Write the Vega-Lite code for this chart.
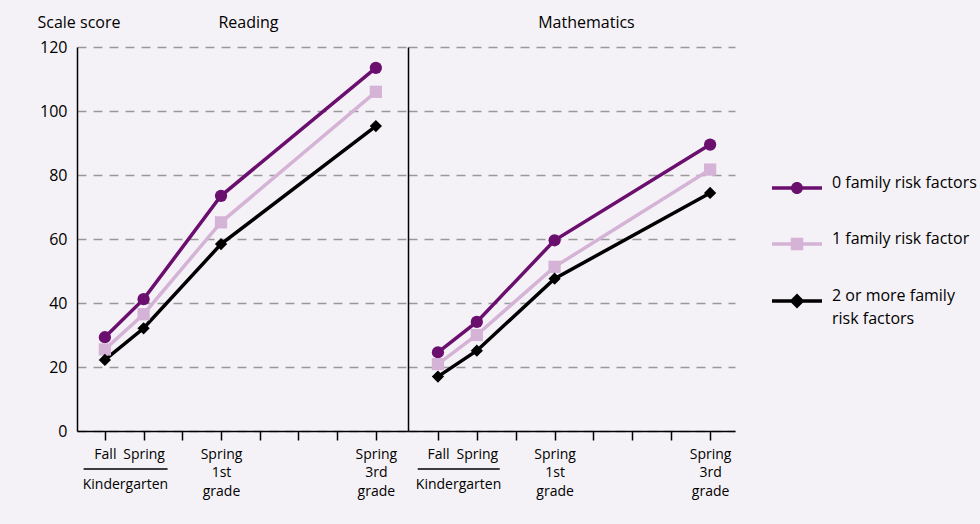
{
  "$schema": "https://vega.github.io/schema/vega-lite/v6.json",
  "background": "#f5f2f7",
  "padding": {"left": 37, "top": 14, "right": 4, "bottom": 26},
  "bounds": "flush",
  "spacing": 0,
  "config": {
    "font": "Open Sans",
    "view": {"stroke": null},
    "style": {"guide-label": {"lineHeight": 23}},
    "axis": {
      "labelFont": "Open Sans",
      "titleFont": "Open Sans",
      "labelColor": "#000000",
      "titleColor": "#000000",
      "domainColor": "#000000",
      "domainWidth": 1.5,
      "tickColor": "#000000"
    }
  },
  "data": {
    "values": [
      {"subject": "Reading", "t": 0, "group": "0 family risk factors", "score": 29.3},
      {"subject": "Reading", "t": 1, "group": "0 family risk factors", "score": 41.2},
      {"subject": "Reading", "t": 3, "group": "0 family risk factors", "score": 73.5},
      {"subject": "Reading", "t": 7, "group": "0 family risk factors", "score": 113.5},
      {"subject": "Reading", "t": 0, "group": "1 family risk factor", "score": 25.5},
      {"subject": "Reading", "t": 1, "group": "1 family risk factor", "score": 36.5},
      {"subject": "Reading", "t": 3, "group": "1 family risk factor", "score": 65.2},
      {"subject": "Reading", "t": 7, "group": "1 family risk factor", "score": 106},
      {"subject": "Reading", "t": 0, "group": "2 or more family risk factors", "score": 22.2},
      {"subject": "Reading", "t": 1, "group": "2 or more family risk factors", "score": 32.1},
      {"subject": "Reading", "t": 3, "group": "2 or more family risk factors", "score": 58.4},
      {"subject": "Reading", "t": 7, "group": "2 or more family risk factors", "score": 95.3},
      {"subject": "Mathematics", "t": 0, "group": "0 family risk factors", "score": 24.6},
      {"subject": "Mathematics", "t": 1, "group": "0 family risk factors", "score": 34.1},
      {"subject": "Mathematics", "t": 3, "group": "0 family risk factors", "score": 59.6},
      {"subject": "Mathematics", "t": 7, "group": "0 family risk factors", "score": 89.5},
      {"subject": "Mathematics", "t": 0, "group": "1 family risk factor", "score": 20.9},
      {"subject": "Mathematics", "t": 1, "group": "1 family risk factor", "score": 30},
      {"subject": "Mathematics", "t": 3, "group": "1 family risk factor", "score": 51.3},
      {"subject": "Mathematics", "t": 7, "group": "1 family risk factor", "score": 81.7},
      {"subject": "Mathematics", "t": 0, "group": "2 or more family risk factors", "score": 17},
      {"subject": "Mathematics", "t": 1, "group": "2 or more family risk factors", "score": 25.1},
      {"subject": "Mathematics", "t": 3, "group": "2 or more family risk factors", "score": 47.6},
      {"subject": "Mathematics", "t": 7, "group": "2 or more family risk factors", "score": 74.4}
    ]
  },
  "hconcat": [
    {
      "width": 331,
      "height": 384,
      "layer": [
        {
          "transform": [{"filter": "datum.subject == 'Reading'"}],
          "mark": {"type": "line", "strokeWidth": 3.5},
          "encoding": {
            "x": {
              "field": "t", "type": "quantitative",
              "scale": {"domain": [-0.72, 7.83], "nice": false, "zero": false},
              "axis": {
                "values": [0, 1, 2, 3, 4, 5, 6, 7],
                "labelExpr": "datum.value == 0 ? 'Fall' : datum.value == 1 ? 'Spring' : datum.value == 3 ? ['Spring', '1st', 'grade'] : datum.value == 7 ? ['Spring', '3rd', 'grade'] : ''",
                "title": null, "grid": false, "tickSize": 9, "tickWidth": 1.5,
                "labelFontSize": 14, "labelPadding": 7, "labelLineHeight": 18.5,
                "labelOverlap": false, "labelFlush": false
              }
            },
            "y": {
              "field": "score", "type": "quantitative",
              "scale": {"domain": [0, 120], "nice": false},
              "axis": {
                "values": [0, 20, 40, 60, 80, 100, 120],
                "title": "Scale score", "titleAngle": 0, "titleAlign": "left", "titleBaseline": "alphabetic",
                "titleX": -40, "titleY": -19.5, "titleFontSize": 16, "titleFontWeight": "normal",
                "ticks": false, "tickSize": 0, "labelPadding": 10, "labelFontSize": 16, "labelLineHeight": 18,
                "grid": true, "gridColor": "#999999", "gridDash": [9, 7], "gridWidth": 1.4
              }
            },
            "color": {
              "field": "group", "type": "nominal",
              "scale": {"domain": ["0 family risk factors", "1 family risk factor", "2 or more family risk factors"], "range": ["#6b0f6f", "#d4b3d6", "#000000"]},
              "legend": null
            }
          }
        },
        {
          "transform": [{"filter": "datum.subject == 'Reading'"}],
          "mark": {"type": "point", "filled": true, "opacity": 1, "size": 150},
          "encoding": {
            "x": {"field": "t", "type": "quantitative"},
            "y": {"field": "score", "type": "quantitative"},
            "color": {"field": "group", "type": "nominal", "legend": null},
            "shape": {
              "field": "group", "type": "nominal",
              "scale": {"domain": ["0 family risk factors", "1 family risk factor", "2 or more family risk factors"], "range": ["circle", "square", "diamond"]},
              "legend": null
            }
          }
        },
        {
          "data": {"values": [{"label": "Kindergarten"}]},
          "mark": {"type": "rule", "color": "#000000", "strokeWidth": 1.5},
          "encoding": {
            "x": {"datum": -0.55, "type": "quantitative"},
            "x2": {"datum": 1.62},
            "y": {"datum": -11.9, "type": "quantitative"}
          }
        },
        {
          "data": {"values": [{"label": "Kindergarten"}]},
          "mark": {"type": "text", "fontSize": 14, "baseline": "middle", "align": "center", "color": "#000000"},
          "encoding": {
            "x": {"datum": 0.53, "type": "quantitative"},
            "y": {"datum": -16.9, "type": "quantitative"},
            "text": {"field": "label"}
          }
        },
        {
          "data": {"values": [{"label": "Reading"}]},
          "mark": {"type": "text", "fontSize": 16, "baseline": "middle", "align": "center", "color": "#000000"},
          "encoding": {
            "x": {"datum": 3.71, "type": "quantitative"},
            "y": {"datum": 127.6, "type": "quantitative"},
            "text": {"field": "label"}
          }
        }
      ]
    },
    {
      "width": 327,
      "height": 384,
      "resolve": {"scale": {"shape": "independent", "fill": "independent"}},
      "layer": [
        {
          "transform": [{"filter": "datum.subject == 'Mathematics'"}],
          "mark": {"type": "line", "strokeWidth": 3.5},
          "encoding": {
            "x": {
              "field": "t", "type": "quantitative",
              "scale": {"domain": [-0.77, 7.64], "nice": false, "zero": false},
              "axis": {
                "values": [0, 1, 2, 3, 4, 5, 6, 7],
                "labelExpr": "datum.value == 0 ? 'Fall' : datum.value == 1 ? 'Spring' : datum.value == 3 ? ['Spring', '1st', 'grade'] : datum.value == 7 ? ['Spring', '3rd', 'grade'] : ''",
                "title": null, "grid": false, "tickSize": 9, "tickWidth": 1.5,
                "labelFontSize": 14, "labelPadding": 7, "labelLineHeight": 18.5,
                "labelOverlap": false, "labelFlush": false
              }
            },
            "y": {
              "field": "score", "type": "quantitative",
              "scale": {"domain": [0, 120], "nice": false},
              "axis": {
                "values": [0, 20, 40, 60, 80, 100, 120],
                "title": null, "labels": false, "ticks": false, "tickSize": 0,
                "grid": true, "gridColor": "#999999", "gridDash": [9, 7], "gridWidth": 1.4
              }
            },
            "color": {
              "field": "group", "type": "nominal",
              "scale": {"domain": ["0 family risk factors", "1 family risk factor", "2 or more family risk factors"], "range": ["#6b0f6f", "#d4b3d6", "#000000"]},
              "legend": null
            }
          }
        },
        {
          "transform": [{"filter": "datum.subject == 'Mathematics'"}],
          "mark": {"type": "point", "filled": true, "opacity": 1, "size": 150},
          "encoding": {
            "x": {"field": "t", "type": "quantitative"},
            "y": {"field": "score", "type": "quantitative"},
            "color": {"field": "group", "type": "nominal", "legend": null},
            "shape": {
              "field": "group", "type": "nominal",
              "scale": {"domain": ["0 family risk factors", "1 family risk factor", "2 or more family risk factors"], "range": ["circle", "square", "diamond"]},
              "legend": null
            }
          }
        },
        {
          "data": {"values": [{"label": "Kindergarten"}]},
          "mark": {"type": "rule", "color": "#000000", "strokeWidth": 1.5},
          "encoding": {
            "x": {"datum": -0.52, "type": "quantitative"},
            "x2": {"datum": 1.59},
            "y": {"datum": -11.9, "type": "quantitative"}
          }
        },
        {
          "data": {"values": [{"label": "Kindergarten"}]},
          "mark": {"type": "text", "fontSize": 14, "baseline": "middle", "align": "center", "color": "#000000"},
          "encoding": {
            "x": {"datum": 0.53, "type": "quantitative"},
            "y": {"datum": -16.9, "type": "quantitative"},
            "text": {"field": "label"}
          }
        },
        {
          "data": {"values": [{"label": "Mathematics"}]},
          "mark": {"type": "text", "fontSize": 16, "baseline": "middle", "align": "center", "color": "#000000"},
          "encoding": {
            "x": {"datum": 3.82, "type": "quantitative"},
            "y": {"datum": 127.6, "type": "quantitative"},
            "text": {"field": "label"}
          }
        },
        {
          "transform": [{"filter": "false"}],
          "mark": {"type": "point", "filled": true, "opacity": 1},
          "encoding": {
            "shape": {
              "field": "group", "type": "nominal",
              "scale": {
                "domain": ["0 family risk factors", "1 family risk factor", "2 or more family risk factors"],
                "range": [
                  "M-1,-0.07H1V0.07H-1Z M0.24,0A0.24,0.24 0 1,1 -0.24,0A0.24,0.24 0 1,1 0.24,0Z",
                  "M-1,-0.07H1V0.07H-1Z M-0.25,-0.25H0.25V0.25H-0.25Z",
                  "M-1,-0.07H1V0.07H-1Z M-0.3,0L0,-0.3L0.3,0L0,0.3Z"
                ]
              },
              "legend": {
                "title": null, "orient": "none", "legendX": 364, "legendY": 116, "padding": 0,
                "symbolSize": 2500, "symbolStrokeWidth": 0, "rowPadding": 25,
                "labelFontSize": 16, "labelFont": "Open Sans", "labelColor": "#000000", "labelOffset": 10, "labelLimit": 400,
                "labelBaseline": "alphabetic",
                "labelExpr": "datum.label == '2 or more family risk factors' ? ['2 or more family', 'risk factors'] : datum.label",
                "encode": {"labels": {"update": {"dy": {"value": 5}, "lineHeight": {"value": 23}}}}
              }
            },
            "fill": {
              "field": "group", "type": "nominal",
              "scale": {"domain": ["0 family risk factors", "1 family risk factor", "2 or more family risk factors"], "range": ["#6b0f6f", "#d4b3d6", "#000000"]},
              "legend": {
                "title": null, "orient": "none", "legendX": 364, "legendY": 116, "padding": 0,
                "symbolSize": 2500, "symbolStrokeWidth": 0, "rowPadding": 25,
                "labelFontSize": 16, "labelFont": "Open Sans", "labelColor": "#000000", "labelOffset": 10, "labelLimit": 400,
                "labelBaseline": "alphabetic",
                "labelExpr": "datum.label == '2 or more family risk factors' ? ['2 or more family', 'risk factors'] : datum.label",
                "encode": {"labels": {"update": {"dy": {"value": 5}, "lineHeight": {"value": 23}}}}
              }
            }
          }
        }
      ]
    }
  ]
}
